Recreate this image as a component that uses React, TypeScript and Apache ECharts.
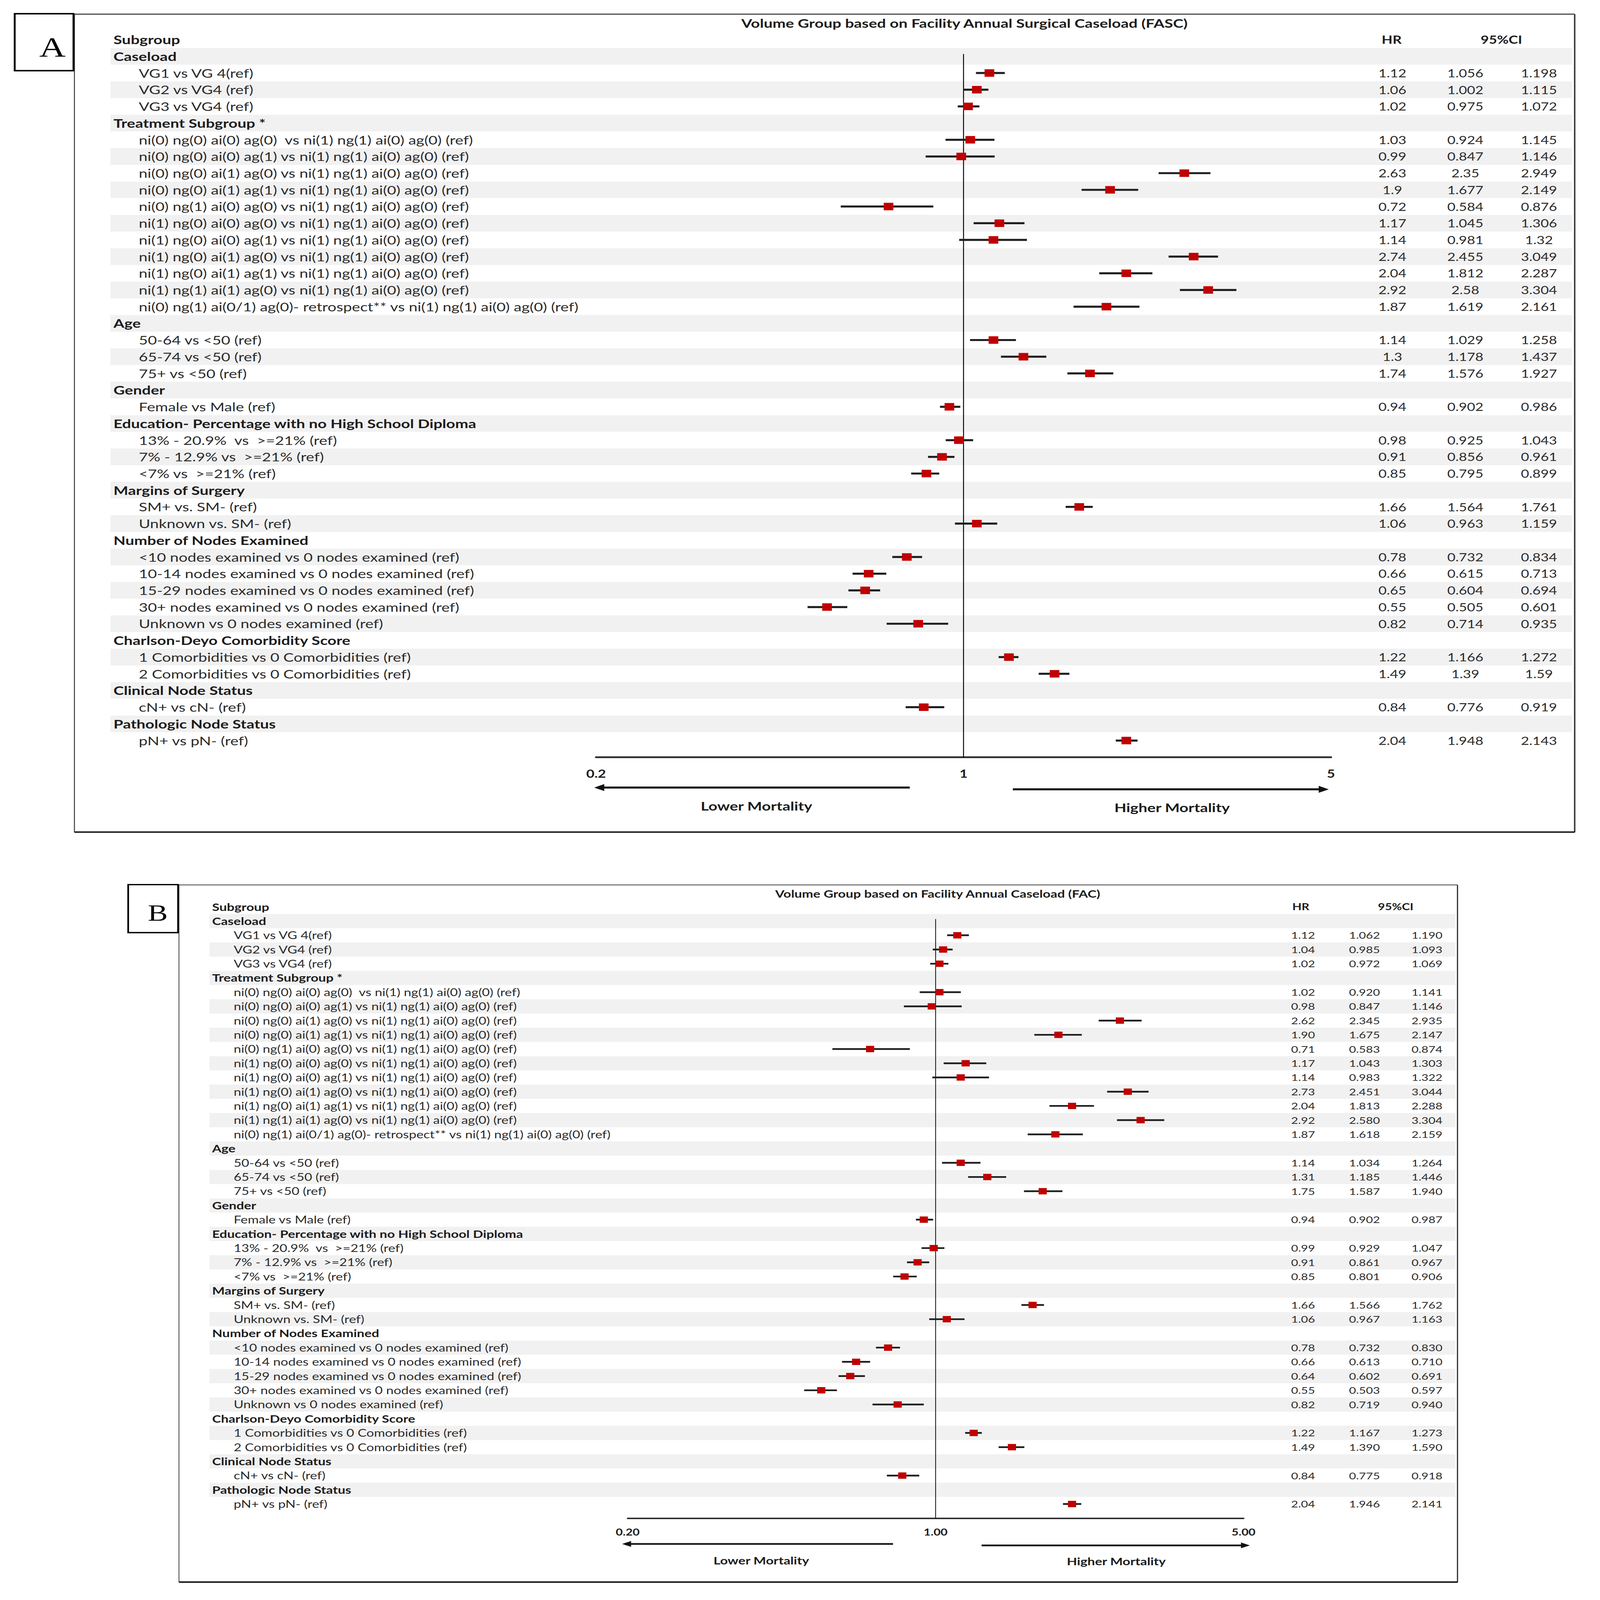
import React, { useEffect, useRef } from "react";
import * as echarts from "echarts";

const rowLabels = [
  "Caseload",
  "VG1 vs VG 4(ref)",
  "VG2 vs VG4 (ref)",
  "VG3 vs VG4 (ref)",
  "Treatment Subgroup *",
  "ni(0) ng(0) ai(0) ag(0)  vs ni(1) ng(1) ai(0) ag(0) (ref)",
  "ni(0) ng(0) ai(0) ag(1) vs ni(1) ng(1) ai(0) ag(0) (ref)",
  "ni(0) ng(0) ai(1) ag(0) vs ni(1) ng(1) ai(0) ag(0) (ref)",
  "ni(0) ng(0) ai(1) ag(1) vs ni(1) ng(1) ai(0) ag(0) (ref)",
  "ni(0) ng(1) ai(0) ag(0) vs ni(1) ng(1) ai(0) ag(0) (ref)",
  "ni(1) ng(0) ai(0) ag(0) vs ni(1) ng(1) ai(0) ag(0) (ref)",
  "ni(1) ng(0) ai(0) ag(1) vs ni(1) ng(1) ai(0) ag(0) (ref)",
  "ni(1) ng(0) ai(1) ag(0) vs ni(1) ng(1) ai(0) ag(0) (ref)",
  "ni(1) ng(0) ai(1) ag(1) vs ni(1) ng(1) ai(0) ag(0) (ref)",
  "ni(1) ng(1) ai(1) ag(0) vs ni(1) ng(1) ai(0) ag(0) (ref)",
  "ni(0) ng(1) ai(0/1) ag(0)- retrospect** vs ni(1) ng(1) ai(0) ag(0) (ref)",
  "Age",
  "50-64 vs <50 (ref)",
  "65-74 vs <50 (ref)",
  "75+ vs <50 (ref)",
  "Gender",
  "Female vs Male (ref)",
  "Education- Percentage with no High School Diploma",
  "13% - 20.9%  vs  >=21% (ref)",
  "7% - 12.9% vs  >=21% (ref)",
  "<7% vs  >=21% (ref)",
  "Margins of Surgery",
  "SM+ vs. SM- (ref)",
  "Unknown vs. SM- (ref)",
  "Number of Nodes Examined",
  "<10 nodes examined vs 0 nodes examined (ref)",
  "10-14 nodes examined vs 0 nodes examined (ref)",
  "15-29 nodes examined vs 0 nodes examined (ref)",
  "30+ nodes examined vs 0 nodes examined (ref)",
  "Unknown vs 0 nodes examined (ref)",
  "Charlson-Deyo Comorbidity Score",
  "1 Comorbidities vs 0 Comorbidities (ref)",
  "2 Comorbidities vs 0 Comorbidities (ref)",
  "Clinical Node Status",
  "cN+ vs cN- (ref)",
  "Pathologic Node Status",
  "pN+ vs pN- (ref)",
];
const headerRows = [0, 4, 16, 20, 22, 26, 29, 35, 38, 40];

const titleA = "Volume Group based on Facility Annual Surgical Caseload (FASC)";
const titleB = "Volume Group based on Facility Annual Caseload (FAC)";

const hrA = [null, 1.12, 1.06, 1.02, null, 1.03, 0.99, 2.63, 1.9, 0.72, 1.17, 1.14, 2.74, 2.04, 2.92, 1.87, null, 1.14, 1.3, 1.74, null, 0.94, null, 0.98, 0.91, 0.85, null, 1.66, 1.06, null, 0.78, 0.66, 0.65, 0.55, 0.82, null, 1.22, 1.49, null, 0.84, null, 2.04];
const loA = [null, 1.056, 1.002, 0.975, null, 0.924, 0.847, 2.35, 1.677, 0.584, 1.045, 0.981, 2.455, 1.812, 2.58, 1.619, null, 1.029, 1.178, 1.576, null, 0.902, null, 0.925, 0.856, 0.795, null, 1.564, 0.963, null, 0.732, 0.615, 0.604, 0.505, 0.714, null, 1.166, 1.39, null, 0.776, null, 1.948];
const hiA = [null, 1.198, 1.115, 1.072, null, 1.145, 1.146, 2.949, 2.149, 0.876, 1.306, 1.32, 3.049, 2.287, 3.304, 2.161, null, 1.258, 1.437, 1.927, null, 0.986, null, 1.043, 0.961, 0.899, null, 1.761, 1.159, null, 0.834, 0.713, 0.694, 0.601, 0.935, null, 1.272, 1.59, null, 0.919, null, 2.143];

const hrB = [null, 1.12, 1.04, 1.02, null, 1.02, 0.98, 2.62, 1.9, 0.71, 1.17, 1.14, 2.73, 2.04, 2.92, 1.87, null, 1.14, 1.31, 1.75, null, 0.94, null, 0.99, 0.91, 0.85, null, 1.66, 1.06, null, 0.78, 0.66, 0.64, 0.55, 0.82, null, 1.22, 1.49, null, 0.84, null, 2.04];
const loB = [null, 1.062, 0.985, 0.972, null, 0.92, 0.847, 2.345, 1.675, 0.583, 1.043, 0.983, 2.451, 1.813, 2.58, 1.618, null, 1.034, 1.185, 1.587, null, 0.902, null, 0.929, 0.861, 0.801, null, 1.566, 0.967, null, 0.732, 0.613, 0.602, 0.503, 0.719, null, 1.167, 1.39, null, 0.775, null, 1.946];
const hiB = [null, 1.19, 1.093, 1.069, null, 1.141, 1.146, 2.935, 2.147, 0.874, 1.303, 1.322, 3.044, 2.288, 3.304, 2.159, null, 1.264, 1.446, 1.94, null, 0.987, null, 1.047, 0.967, 0.906, null, 1.762, 1.163, null, 0.83, 0.71, 0.691, 0.597, 0.94, null, 1.273, 1.59, null, 0.918, null, 2.141];

const tickValues = [0.2, 1, 5];
const tickLabelsA = ["0.2", "1", "5"];
const tickLabelsB = ["0.20", "1.00", "5.00"];

const PAGE_W = 4300;
const PAGE_H = 5538;
const FONT = "Lato";
const TXT = "#2b2b2b";
const BOLD = "#1c1c1c";

type Panel = {
  hr: (number | null)[];
  lo: (number | null)[];
  hi: (number | null)[];
  fmtHR: (v: number) => string;
  fmtCI: (v: number) => string;
  ticks: string[];
  grid: { left: number; top: number; width: number; height: number };
  font: number;
  numFont: number;
  bandL: number;
  bandR: number;
  hdrX: number;
  itemX: number;
  hrX: number;
  loX: number;
  hiX: number;
  marker: number;
  ciW: number;
  refW: number;
  axisW: number;
  tickDy: number;
};

const panels: Panel[] = [
  {
    hr: hrA, lo: loA, hi: hiA,
    fmtHR: (v) => String(v), fmtCI: (v) => String(v),
    ticks: tickLabelsA,
    grid: { left: 1602, top: 21.7, width: 1975, height: 2599.3 },
    font: 42, numFont: 38, bandL: 297, bandR: 4226, hdrX: 305, itemX: 373,
    hrX: 3742, loX: 3938, hiX: 4136,
    marker: 26, ciW: 7, refW: 2.5, axisW: 6, tickDy: 56,
  },
  {
    hr: hrB, lo: loB, hi: hiB,
    fmtHR: (v) => v.toFixed(2), fmtCI: (v) => v.toFixed(3),
    ticks: tickLabelsB,
    grid: { left: 1687, top: 3040.4, width: 1655, height: 2214.6 },
    font: 36, numFont: 32.5, bandL: 563, bandR: 3912, hdrX: 570, itemX: 628,
    hrX: 3502, loX: 3667, hiX: 3835,
    marker: 22, ciW: 6, refW: 2, axisW: 5, tickDy: 47,
  },
];

function buildOption() {
  const grid: any[] = [];
  const xAxis: any[] = [];
  const yAxis: any[] = [];
  const series: any[] = [];

  panels.forEach((P, i) => {
    grid.push({ ...P.grid, containLabel: false });
    xAxis.push({
      type: "log", gridIndex: i, min: 0.2, max: 5, logBase: 10,
      axisLine: { show: true, onZero: false, lineStyle: { color: "#2a2a2a", width: P.axisW } },
      axisTick: { show: false }, axisLabel: { show: false }, splitLine: { show: false },
    });
    yAxis.push({ type: "value", gridIndex: i, min: -3, max: 42, inverse: true, show: false });

    const base = { type: "custom", xAxisIndex: i, yAxisIndex: i, clip: false, silent: true, encode: { x: 0, y: 1 } };

    // alternating row bands
    series.push({
      ...base, z: 1,
      data: rowLabels.map((_, r) => [1, r]).filter((d) => d[1] % 2 === 0),
      renderItem: (_p: any, api: any) => {
        const r = api.value(1);
        const t = api.coord([1, r - 0.5])[1];
        const b = api.coord([1, r + 0.5])[1];
        return { type: "rect", shape: { x: P.bandL, y: t, width: P.bandR - P.bandL, height: b - t }, style: { fill: "#f1f1f1" } };
      },
    });

    // row labels
    series.push({
      ...base, z: 3,
      data: rowLabels.map((_, r) => [1, r]),
      renderItem: (_p: any, api: any) => {
        const r = api.value(1);
        const hdr = headerRows.indexOf(r) >= 0;
        return {
          type: "text", x: hdr ? P.hdrX : P.itemX, y: api.coord([1, r])[1],
          style: {
            text: rowLabels[r], fill: hdr ? BOLD : TXT, fontSize: P.font, fontFamily: FONT,
            fontWeight: hdr ? "bold" : "normal", align: "left", verticalAlign: "middle",
          },
        };
      },
    });

    // reference line at HR = 1
    series.push({
      ...base, z: 3,
      data: [[1, 0]],
      renderItem: (_p: any, api: any) => {
        const a = api.coord([1, -0.14]);
        const b = api.coord([1, 42]);
        return { type: "line", shape: { x1: a[0], y1: a[1], x2: b[0], y2: b[1] }, style: { stroke: "#000", lineWidth: P.refW } };
      },
    });

    // CI whiskers and HR squares
    const forest = P.hr.map((h, r) => (h == null ? null : [h, r, P.lo[r], P.hi[r]])).filter((d) => d) as number[][];
    series.push({
      ...base, z: 4,
      dimensions: ["hr", "row", "lo", "hi"],
      data: forest,
      renderItem: (_p: any, api: any) => {
        const c = api.coord([api.value(0), api.value(1)]);
        const l = api.coord([api.value(2), api.value(1)]);
        const h = api.coord([api.value(3), api.value(1)]);
        const m = P.marker;
        return {
          type: "group",
          children: [
            { type: "line", shape: { x1: l[0], y1: c[1], x2: h[0], y2: c[1] }, style: { stroke: "#1e1e1e", lineWidth: P.ciW } },
            { type: "rect", shape: { x: c[0] - m / 2, y: c[1] - m / 2, width: m, height: m }, style: { fill: "#c00000" } },
          ],
        };
      },
    });

    // HR / CI columns
    series.push({
      ...base, z: 3,
      data: forest.map((d) => [1, d[1]]),
      renderItem: (_p: any, api: any) => {
        const r = api.value(1);
        const y = api.coord([1, r])[1];
        const mk = (x: number, s: string) => ({
          type: "text", x, y,
          style: { text: s, fill: TXT, fontSize: P.numFont, fontFamily: FONT, align: "center", verticalAlign: "middle" },
        });
        return {
          type: "group",
          children: [
            mk(P.hrX, P.fmtHR(P.hr[r] as number)),
            mk(P.loX, P.fmtCI(P.lo[r] as number)),
            mk(P.hiX, P.fmtCI(P.hi[r] as number)),
          ],
        };
      },
    });

    // tick labels
    series.push({
      ...base, z: 3,
      data: tickValues.map((v) => [v, 42]),
      renderItem: (p: any, api: any) => {
        const c = api.coord([api.value(0), 42]);
        return {
          type: "text", x: c[0], y: c[1] + P.tickDy,
          style: { text: P.ticks[p.dataIndex], fill: BOLD, fontSize: P.numFont, fontFamily: FONT, fontWeight: "bold", align: "center", verticalAlign: "middle" },
        };
      },
    });
  });

  const txt = (x: number, y: number, text: string, size: number, opts: any = {}) => ({
    type: "text", x, y, z: opts.z || 10,
    style: {
      text, fill: opts.fill || BOLD, fontSize: size, fontFamily: opts.family || FONT,
      fontWeight: opts.weight || "bold", align: opts.align || "center", textAlign: opts.align || "center",
      verticalAlign: "middle", textVerticalAlign: "middle",
    },
  });
  const ln = (x1: number, y1: number, x2: number, y2: number, w: number, c: string) => ({
    type: "line", z: 10, shape: { x1, y1, x2, y2 }, style: { stroke: c, lineWidth: w },
  });
  const tri = (pts: number[][]) => ({ type: "polygon", z: 10, shape: { points: pts }, style: { fill: "#111" } });

  const A = panels[0], B = panels[1];
  const graphic: any[] = [
    ln(200, 49, 4232, 49, 4, "#4a4a4a"),
    ln(4232, 49, 4232, 2881, 4, "#3a3a3a"),
    ln(200, 2880, 4232, 2880, 5, "#1a1a1a"),
    ln(200, 49, 200, 2881, 2.5, "#333"),
    { type: "rect", z: 11, shape: { x: 39.5, y: 47.5, width: 158, height: 197 }, style: { fill: "#fff", stroke: "#000", lineWidth: 5 } },
    txt(141, 163, "A", 98, { family: "Liberation Serif", weight: "normal", fill: "#000", z: 12 }),
    txt(2592, 80, titleA, A.font),
    txt(305, 137, "Subgroup", A.font, { align: "left" }),
    txt(3740, 137, "HR", A.numFont),
    txt(4035, 137, "95%CI", A.numFont),
    ln(1616, 2726, 2445, 2726, 7, "#1a1a1a"),
    tri([[1597, 2726], [1624, 2714], [1624, 2738]]),
    ln(2722, 2732, 3550, 2732, 7, "#1a1a1a"),
    tri([[3571, 2732], [3544, 2720], [3544, 2744]]),
    txt(2033, 2790, "Lower Mortality", A.font),
    txt(3150, 2795, "Higher Mortality", A.font),

    ln(481, 3063, 3917, 3063, 3, "#555"),
    ln(3917, 3063, 3917, 5477, 3, "#222"),
    ln(481, 5476, 3917, 5476, 5, "#111"),
    ln(481, 3063, 481, 5477, 2, "#333"),
    { type: "rect", z: 11, shape: { x: 344.5, y: 3062, width: 134, height: 166 }, style: { fill: "#fff", stroke: "#000", lineWidth: 4.5 } },
    txt(424, 3160, "B", 80, { family: "Liberation Serif", weight: "normal", fill: "#000", z: 12 }),
    txt(2520, 3094, titleB, B.font),
    txt(570, 3139, "Subgroup", B.font, { align: "left" }),
    txt(3496, 3138, "HR", B.numFont),
    txt(3751, 3138, "95%CI", B.numFont),
    ln(1690, 5344, 2400, 5344, 6, "#1a1a1a"),
    tri([[1672, 5344], [1696, 5334], [1696, 5354]]),
    ln(2638, 5349, 3340, 5349, 6, "#1a1a1a"),
    tri([[3359, 5349], [3335, 5339], [3335, 5359]]),
    txt(2046, 5402, "Lower Mortality", B.font),
    txt(3000, 5404, "Higher Mortality", B.font),
  ];

  return { animation: false, backgroundColor: "#ffffff", grid, xAxis, yAxis, series, graphic };
}

export default function App() {
  const ref = useRef<HTMLDivElement>(null);
  const vw = typeof window !== "undefined" ? window.innerWidth : PAGE_W;
  const vh = typeof window !== "undefined" ? window.innerHeight : PAGE_H;
  const sx = Math.min(1, vw / PAGE_W);
  const sy = Math.min(1, vh / PAGE_H);

  useEffect(() => {
    if (!ref.current) return;
    const chart = echarts.init(ref.current, undefined, { renderer: "svg" });
    chart.setOption(buildOption() as any);
    return () => chart.dispose();
  }, []);

  return (
    <div
      style={{
        position: "absolute", left: 0, top: 0,
        width: PAGE_W * sx, height: PAGE_H * sy, overflow: "hidden", background: "#fff",
      }}
    >
      <div
        ref={ref}
        style={{
          width: PAGE_W, height: PAGE_H, background: "#fff",
          transform: `scale(${sx}, ${sy})`, transformOrigin: "0 0",
        }}
      />
    </div>
  );
}
